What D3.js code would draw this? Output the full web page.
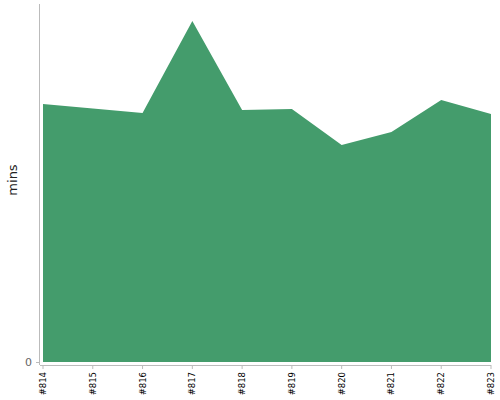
<!DOCTYPE html>
<html><head><meta charset="utf-8">
<script src="https://cdn.jsdelivr.net/npm/d3@7"></script>
<style>body{margin:0;background:#fff;}svg{display:block;font-family:"DejaVu Sans",sans-serif;}</style>
</head><body><svg id="c" width="500" height="400"></svg>
<script>
const categories = ["#814","#815","#816","#817","#818","#819","#820","#821","#822","#823"];
const values = [25.8, 25.35, 24.9, 34.1, 25.2, 25.3, 21.7, 23.0, 26.2, 24.8];
const yTicks = [0];
const yLabel = "mins";

const svg = d3.select("#c");
const x = d3.scalePoint().domain(categories).range([43, 491]);
const y = d3.scaleLinear().domain([0, 35.8]).range([362, 4]);
const data = categories.map((c, i) => ({c, v: values[i]}));

svg.append("path").datum(data)
  .attr("fill", "#449c6c")
  .attr("d", d3.area().x(d => x(d.c)).y0(y(0)).y1(d => y(d.v)));

// y axis
const ya = svg.append("g");
ya.append("line").attr("x1", 39.5).attr("x2", 39.5).attr("y1", 4).attr("y2", 365).attr("stroke", "#bbb");
yTicks.forEach(t => {
  ya.append("line").attr("x1", 36).attr("x2", 40).attr("y1", y(t) + 0.5).attr("y2", y(t) + 0.5).attr("stroke", "#bbb");
  ya.append("text").attr("x", 32).attr("y", y(t)).attr("dy", "0.35em").attr("text-anchor", "end")
    .attr("font-size", 11).attr("fill", "#666").text(t);
});
svg.append("text").attr("transform", "translate(17,180) rotate(-90)").attr("text-anchor", "middle")
  .attr("font-size", 13).attr("fill", "#222").text(yLabel);

// x axis
const xa = svg.append("g");
xa.append("line").attr("x1", 40).attr("x2", 491).attr("y1", 365.5).attr("y2", 365.5).attr("stroke", "#bbb");
categories.forEach(c => {
  xa.append("line").attr("x1", x(c)).attr("x2", x(c)).attr("y1", 365).attr("y2", 369).attr("stroke", "#bbb");
  xa.append("text").attr("transform", `translate(${x(c)},372) rotate(-90)`).attr("dy", "0.35em")
    .attr("text-anchor", "end").attr("font-size", 8.5).attr("fill", "#000").text(c);
});
</script></body></html>
